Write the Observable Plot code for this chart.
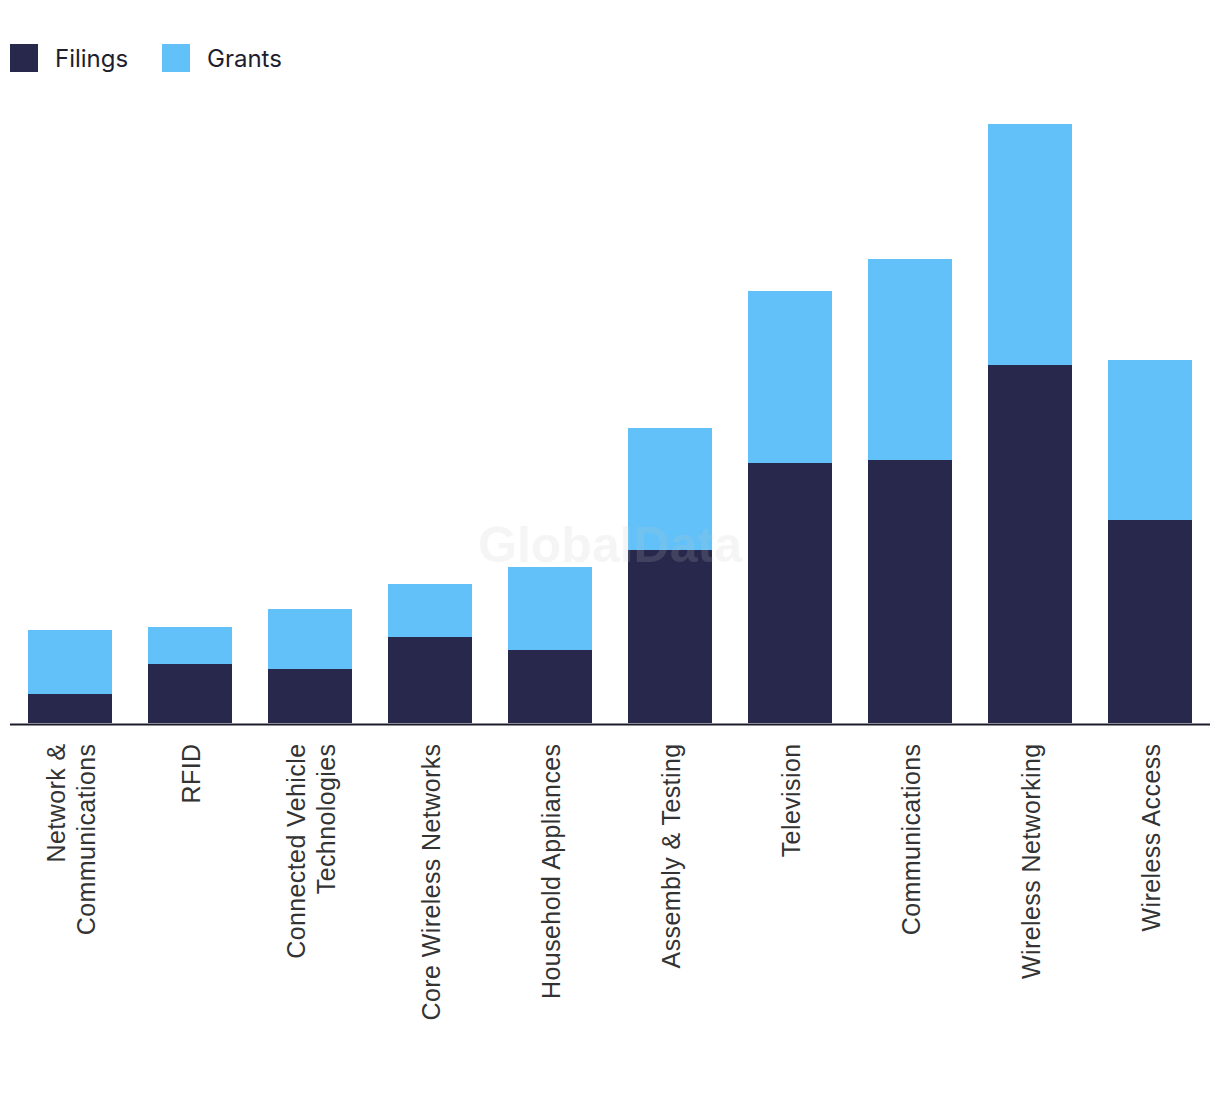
<!DOCTYPE html>
<html>
<head>
<meta charset="utf-8">
<script src="https://cdn.jsdelivr.net/npm/d3@7"></script>
<script src="https://cdn.jsdelivr.net/npm/@observablehq/plot@0.6"></script>
<style>
  html, body { margin: 0; padding: 0; background: #fff; }
  #wrap { position: relative; width: 1220px; height: 1094px; overflow: hidden; }
  #legend { position: absolute; left: 0; top: 0; height: 90px; width: 1220px;
            font-family: Inter, "Noto Sans", sans-serif; font-size: 24px; color: #1e1e2e; }
  .item { position: absolute; top: 44px; display: flex; align-items: center; height: 28px; }
  .sw { width: 28px; height: 28px; margin-right: 17px; }
  #chart { position: absolute; left: 0; top: 90px; }
  #wm { position: absolute; left: 0; width: 1220px; top: 515px; text-align: center;
        font-family: "Liberation Sans", Arial, sans-serif; font-weight: bold; font-size: 50px;
        color: #c8c8c8; opacity: 0.16; pointer-events: none; line-height: 60px; }
</style>
</head>
<body>
<div id="wrap">
  <div id="legend"></div>
  <div id="chart"></div>
  <div id="wm">GlobalData</div>
</div>
<script>
const categories = [
  "Network &\nCommunications",
  "RFID",
  "Connected Vehicle\nTechnologies",
  "Core Wireless Networks",
  "Household Appliances",
  "Assembly & Testing",
  "Television",
  "Communications",
  "Wireless Networking",
  "Wireless Access"
];
const filings = [29, 59, 54, 86, 73, 173, 260, 263, 358, 203];
const grants  = [64, 37, 60, 53, 83, 122, 172, 201, 241, 160];
const seriesNames = ["Filings", "Grants"];
const seriesColors = ["#27284b", "#62c1f9"];

const rows = [];
categories.forEach((c, i) => {
  rows.push({category: c, series: "Filings", value: filings[i]});
  rows.push({category: c, series: "Grants", value: grants[i]});
});
const maxTotal = d3.max(categories.map((c, i) => filings[i] + grants[i]));

// legend
const legend = document.getElementById("legend");
const lx = [10, 162];
seriesNames.forEach((s, i) => {
  const it = document.createElement("div");
  it.className = "item";
  it.style.left = lx[i] + "px";
  const sw = document.createElement("div");
  sw.className = "sw";
  sw.style.background = seriesColors[i];
  const tx = document.createElement("span");
  tx.textContent = s;
  it.appendChild(sw); it.appendChild(tx);
  legend.appendChild(it);
});

const chart = Plot.plot({
  width: 1220,
  height: 1004,
  marginLeft: 10,
  marginRight: 10,
  marginTop: 34,
  marginBottom: 371,
  style: "background: transparent; letter-spacing: 0.4px;",
  x: { domain: categories, paddingInner: 0.3, paddingOuter: 0.15, label: null },
  y: { domain: [0, maxTotal], axis: null },
  color: { domain: seriesNames, range: seriesColors },
  marks: [
    Plot.barY(rows, Plot.stackY({
      x: "category", y: "value", fill: "series",
      order: seriesNames
    })),
    Plot.ruleY([0], { stroke: "#1b1b2b", strokeWidth: 2, dy: 1 }),
    Plot.axisX({
      tickSize: 0, tickPadding: 20, tickRotate: -90,
      fontSize: 25, lineHeight: 1.2,
      fontFamily: "'Liberation Sans', Arial, sans-serif",
      fill: "#333333", label: null
    })
  ]
});
document.getElementById("chart").appendChild(chart);
</script>
</body>
</html>
